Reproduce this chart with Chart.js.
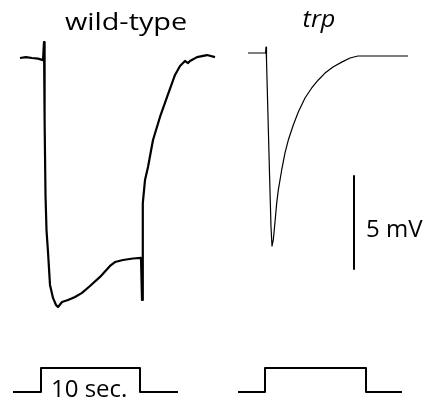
<!DOCTYPE html>
<html>
<head>
<meta charset="utf-8">
<script src="https://cdn.jsdelivr.net/npm/chart.js@4/dist/chart.umd.min.js"></script>
<style>
  html, body { margin: 0; padding: 0; background: #fff; }
  #wrap { width: 428px; height: 398px; }
</style>
</head>
<body>
<div id="wrap"><canvas id="graph" width="428" height="398"></canvas></div>
<script>
// wild-type photoreceptor response, time (s) and voltage (mV, 0 = resting)
var wtTime = [2.0, 2.6, 3.2, 3.8, 4.3, 4.4, 4.46, 4.55, 4.65, 4.8, 5.0, 5.3, 5.6, 5.8, 6.2, 6.8, 7.5, 8.2, 9.0, 10.0, 11.0, 11.5, 12.3, 13.3, 14.1, 14.2, 14.28, 14.5, 14.8, 15.3, 16.0, 16.7, 17.5, 18.0, 18.5, 18.8, 19.0, 19.7, 20.7, 21.5];
var wtVolt = [0.0, 0.05, 0.0, -0.03, -0.11, 0.86, -3.33, -7.37, -9.25, -10.43, -12.2, -12.9, -13.28, -13.39, -13.12, -13.01, -12.85, -12.63, -12.26, -11.77, -11.18, -10.97, -10.86, -10.78, -10.75, -13.01, -7.8, -6.56, -5.86, -4.41, -3.17, -2.1, -0.91, -0.43, -0.16, -0.27, -0.16, 0.05, 0.16, 0.05];

// trp mutant response
var trpTime = [24.8, 26.55, 26.6, 26.65, 26.95, 27.1, 27.2, 27.33, 27.5, 27.67, 27.83, 28.17, 28.5, 28.83, 29.33, 29.83, 30.5, 31.17, 31.83, 32.5, 33.3, 34.17, 35.0, 35.8, 37.8, 40.8];
var trpVolt = [0.27, 0.27, 0.59, -0.11, -6.18, -9.09, -10.11, -9.78, -8.82, -7.8, -7.1, -6.02, -5.1, -4.41, -3.6, -2.9, -2.15, -1.61, -1.18, -0.81, -0.48, -0.22, 0.0, 0.11, 0.11, 0.11];

// light stimulus (0 = off, 1 = on)
var stimWtTime = [1.3, 4.1, 4.1, 14.0, 14.0, 17.8];
var stimTrpTime = [23.8, 26.5, 26.5, 36.6, 36.6, 40.2];
var stimLevel = [0, 0, 1, 1, 0, 0];

// 5 mV scale bar
var barTime = [35.4, 35.4];
var barVolt = [-6.35, -11.35];

function pts(xs, ys) {
  return xs.map(function (x, i) { return { x: x, y: ys[i] }; });
}

function stretchedText(ctx, text, x, y, sx) {
  ctx.save();
  ctx.translate(x, y);
  ctx.scale(sx, 1);
  ctx.fillText(text, 0, 0);
  ctx.restore();
}

var labels = {
  id: 'labels',
  afterDraw: function (chart) {
    var ctx = chart.ctx;
    var x = chart.scales.x, y = chart.scales.y, s = chart.scales.stim;
    ctx.save();
    ctx.fillStyle = '#000';
    ctx.textBaseline = 'alphabetic';
    ctx.textAlign = 'center';
    ctx.font = '24px "Open Sans"';
    stretchedText(ctx, 'wild-type', x.getPixelForValue(12.6), y.getPixelForValue(1.5), 1.2);
    ctx.font = 'italic 24px "Open Sans"';
    stretchedText(ctx, 'trp', x.getPixelForValue(31.9), y.getPixelForValue(1.65), 1.05);
    ctx.textAlign = 'left';
    ctx.font = '24px "Open Sans"';
    ctx.fillText('5 mV', x.getPixelForValue(36.6), y.getPixelForValue(-9.6));
    ctx.fillText('10 sec.', x.getPixelForValue(5.1), s.getPixelForValue(-0.2));
    ctx.restore();
  }
};

new Chart("graph", {
  type: "line",
  data: {
    datasets: [
      { data: pts(wtTime, wtVolt), borderColor: "#000", borderWidth: 2.2, yAxisID: "y" },
      { data: pts(trpTime, trpVolt), borderColor: "#000", borderWidth: 1.2, yAxisID: "y" },
      { data: pts(barTime, barVolt), borderColor: "#000", borderWidth: 2, yAxisID: "y" },
      { data: pts(stimWtTime, stimLevel), borderColor: "#000", borderWidth: 2, yAxisID: "stim" },
      { data: pts(stimTrpTime, stimLevel), borderColor: "#000", borderWidth: 2, yAxisID: "stim" }
    ]
  },
  options: {
    responsive: false,
    animation: false,
    layout: { padding: 0 },
    elements: { point: { radius: 0 }, line: { tension: 0, borderJoinStyle: "round" } },
    plugins: { legend: { display: false }, tooltip: { enabled: false }, title: { display: false } },
    scales: {
      x: { type: "linear", display: false, min: 0, max: 42.8 },
      y: { display: false, min: -18.28, max: 3.12 },
      stim: { display: false, min: -0.25, max: 16.333 }
    }
  },
  plugins: [labels]
});
</script>
</body>
</html>
